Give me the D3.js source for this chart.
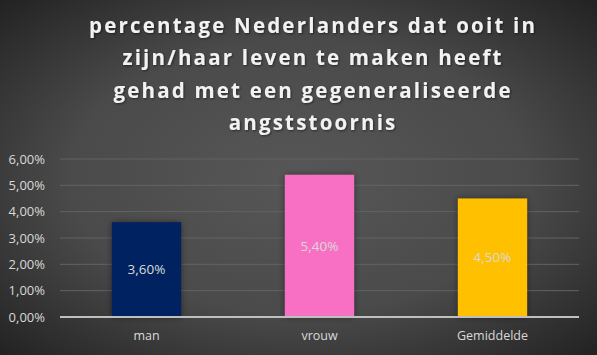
<!DOCTYPE html>
<html>
<head>
<meta charset="utf-8">
<script src="https://cdn.jsdelivr.net/npm/d3@7"></script>
<style>
  body { margin: 0; background: #333; }
  svg { display: block; }
</style>
</head>
<body>
<div id="chart"></div>
<script>
const categories = ["man", "vrouw", "Gemiddelde"];
const values = [3.6, 5.4, 4.5];
const barColors = ["#002060", "#f86fc4", "#ffc000"];
const yTicks = [0, 1, 2, 3, 4, 5, 6];
const titleLines = [
    "percentage Nederlanders dat ooit in",
    "zijn/haar leven te maken heeft",
    "gehad met een gegeneraliseerde",
    "angststoornis"
];

const W = 597, H = 355;
const margin = {top: 159, right: 18, bottom: 38, left: 60};

const svg = d3.select("#chart").append("svg")
    .attr("width", W)
    .attr("height", H);

const defs = svg.append("defs");
const grad = defs.append("radialGradient")
    .attr("id", "bg")
    .attr("cx", "50%").attr("cy", "50%").attr("r", "70%");
grad.append("stop").attr("offset", "0%").attr("stop-color", "#575757");
grad.append("stop").attr("offset", "55%").attr("stop-color", "#4a4a4a");
grad.append("stop").attr("offset", "100%").attr("stop-color", "#232323");

const shadow = defs.append("filter").attr("id", "shadow")
    .attr("x", "-20%").attr("y", "-20%").attr("width", "140%").attr("height", "140%");
shadow.append("feDropShadow")
    .attr("dx", 0).attr("dy", 0).attr("stdDeviation", 3)
    .attr("flood-color", "#000").attr("flood-opacity", 0.45);

const tshadow = defs.append("filter").attr("id", "tshadow");
tshadow.append("feDropShadow")
    .attr("dx", 1).attr("dy", 1).attr("stdDeviation", 0.8)
    .attr("flood-color", "#000").attr("flood-opacity", 0.5);

svg.append("rect").attr("width", W).attr("height", H).attr("fill", "url(#bg)");

// Title (letter-spacing adds a trailing gap, so shift right by half of it)
const spacing = 2.2;
svg.append("g")
    .attr("filter", "url(#tshadow)")
    .selectAll("text")
    .data(titleLines)
    .enter()
    .append("text")
        .attr("x", 312 + spacing / 2)
        .attr("y", (d, i) => 33 + i * 32.3)
        .attr("text-anchor", "middle")
        .attr("fill", "#f2f2f2")
        .style("font-family", "'Open Sans', sans-serif")
        .style("font-weight", "bold")
        .style("font-size", "20.5px")
        .style("letter-spacing", spacing + "px")
        .text(d => d);

const width = W - margin.left - margin.right,
      height = H - margin.top - margin.bottom;

const g = svg.append("g")
    .attr("transform", "translate(" + margin.left + "," + margin.top + ")");

const x = d3.scaleBand()
    .domain(categories)
    .range([0, width])
    .padding(0);

const y = d3.scaleLinear()
    .domain([0, 6])
    .range([height, 0]);

// Gridlines
g.append("g")
    .selectAll("line")
    .data(yTicks.filter(d => d > 0))
    .enter()
    .append("line")
        .attr("x1", 0)
        .attr("x2", width)
        .attr("y1", d => y(d))
        .attr("y2", d => y(d))
        .attr("stroke", "#636363")
        .attr("stroke-width", 1);

// Y axis labels
const yAxis = g.append("g")
    .call(d3.axisLeft(y).tickValues(yTicks)
        .tickFormat(d => d3.format(".2f")(d).replace(".", ",") + "%")
        .tickSize(0).tickPadding(15));
yAxis.select(".domain").remove();
yAxis.selectAll("text")
    .attr("fill", "#d9d9d9")
    .style("font-family", "'Open Sans', sans-serif")
    .style("font-size", "13px");

// Bars
const barW = x.bandwidth() * 0.4;
g.selectAll(".bar")
    .data(values)
    .enter()
    .append("rect")
        .attr("class", "bar")
        .attr("x", (d, i) => x(categories[i]) + (x.bandwidth() - barW) / 2)
        .attr("y", d => y(d))
        .attr("width", barW)
        .attr("height", d => height - y(d))
        .attr("fill", (d, i) => barColors[i])
        .attr("filter", "url(#shadow)");

// Data labels
g.selectAll(".label")
    .data(values)
    .enter()
    .append("text")
        .attr("class", "label")
        .attr("x", (d, i) => x(categories[i]) + x.bandwidth() / 2)
        .attr("y", d => (y(d) + height) / 2)
        .attr("dy", "0.35em")
        .attr("text-anchor", "middle")
        .attr("fill", "#d9d9d9")
        .style("font-family", "'Open Sans', sans-serif")
        .style("font-size", "13.5px")
        .text(d => d3.format(".2f")(d).replace(".", ",") + "%");

// X axis line
g.append("line")
    .attr("x1", 0).attr("x2", width)
    .attr("y1", height).attr("y2", height)
    .attr("stroke", "#bfbfbf")
    .attr("stroke-width", 2);

// X axis labels
const xAxis = g.append("g")
    .attr("transform", "translate(0," + height + ")")
    .call(d3.axisBottom(x).tickSize(0).tickPadding(14));
xAxis.select(".domain").remove();
xAxis.selectAll("text")
    .attr("fill", "#d9d9d9")
    .style("font-family", "'Open Sans', sans-serif")
    .style("font-size", "12.5px");
</script>
</body>
</html>
